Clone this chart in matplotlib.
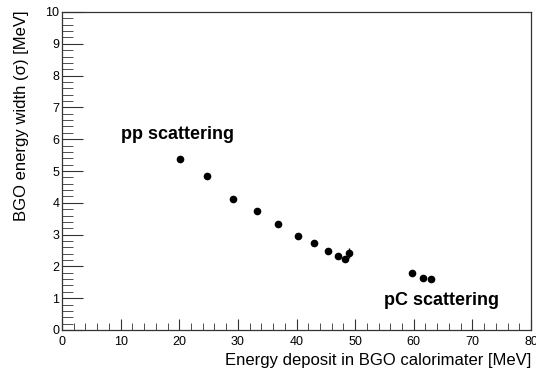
import matplotlib
matplotlib.use("Agg")
import matplotlib.pyplot as plt
from matplotlib.ticker import MultipleLocator

energy = [20.2, 24.8, 29.2, 33.3, 36.9, 40.2, 42.9, 45.3, 47.1, 48.3, 48.9, 59.7, 61.5, 62.9]
sigma = [5.38, 4.84, 4.11, 3.74, 3.32, 2.97, 2.74, 2.47, 2.34, 2.23, 2.42, 1.78, 1.65, 1.60]
sigma_err = [0.10, 0.06, 0.04, 0.04, 0.04, 0.04, 0.04, 0.05, 0.05, 0.07, 0.15, 0.05, 0.05, 0.05]

plt.rcParams['font.family'] = ['Liberation Sans', 'DejaVu Sans']

fig = plt.figure(figsize=(5.36, 3.69), dpi=100)
ax = fig.add_axes([62/536, 1 - 330/369, (531-62)/536, (330-12)/369])

ax.errorbar(energy, sigma, yerr=sigma_err, fmt='o', color='black', ms=4.5,
            elinewidth=1, capsize=0)

ax.set_xlim(0, 80)
ax.set_ylim(0, 10)
ax.xaxis.set_major_locator(MultipleLocator(10))
ax.xaxis.set_minor_locator(MultipleLocator(2))
ax.yaxis.set_major_locator(MultipleLocator(1))
ax.yaxis.set_minor_locator(MultipleLocator(0.2))
ax.tick_params(which='both', direction='in', top=False, right=False, labelsize=9, color='#333333')
ax.tick_params(axis='x', which='major', length=8, pad=4)
ax.tick_params(axis='x', which='minor', length=5)
ax.tick_params(axis='y', which='major', length=15, pad=2)
ax.tick_params(axis='y', which='minor', length=8)
for s in ax.spines.values():
    s.set_linewidth(0.9)
    s.set_color('#333333')

ax.set_xlabel('Energy deposit in BGO calorimater [MeV]', fontsize=12, loc='right', labelpad=4)
ax.set_ylabel('BGO energy width (σ) [MeV]', fontsize=12, loc='top')
ax.yaxis.set_label_coords(-0.070, 1.006)

ax.text(10.1, 6.15, 'pp scattering', fontsize=13, fontweight='bold', va='center', ha='left')
ax.text(55.0, 0.94, 'pC scattering', fontsize=13, fontweight='bold', va='center', ha='left')

fig.savefig('out.png', dpi=100)
